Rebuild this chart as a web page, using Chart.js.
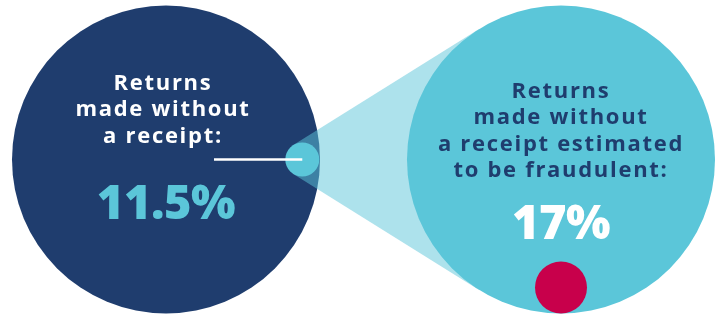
<!DOCTYPE html>
<html>
<head>
<meta charset="utf-8">
<script src="https://cdn.jsdelivr.net/npm/chart.js@4"></script>
<style>
  html, body { margin: 0; padding: 0; background: #ffffff; }
  #wrap { width: 718px; height: 316px; }
</style>
</head>
<body>
<div id="wrap"><canvas id="returnsChart"></canvas></div>
<script>
// data
const categories = ["Returns made without a receipt", "Returns made without a receipt estimated to be fraudulent"];
const labelLines = [
  ["Returns", "made without", "a receipt:"],
  ["Returns", "made without", "a receipt estimated", "to be fraudulent:"],
];
const shares = [11.5, 17];

const NAVY = "#1f3d6e";
const CYAN = "#5bc6d9";
const CRIMSON = "#c8004b";
const FONT = "'Open Sans', sans-serif";

// cone + small dot + pointer line, drawn between the two circles
const zoomPlugin = {
  id: "zoomCone",
  beforeDatasetDraw(chart, args) {
    if (args.index !== 1) return;
    const ctx = chart.ctx;
    const a = chart.getDatasetMeta(0).data[0];
    const b = chart.getDatasetMeta(1).data[0];
    const R1 = a.options.radius;
    const R2 = b.options.radius;
    const c1 = { x: a.x + R1 * 0.885, y: a.y };
    const r1 = 17;
    const dx = b.x - c1.x, dy = b.y - c1.y;
    const d = Math.hypot(dx, dy);
    const base = Math.atan2(dy, dx);
    const phi = Math.acos(-(R2 - r1) / d);
    const pts = [base - phi, base + phi].map((t) => ({
      s: { x: c1.x + r1 * Math.cos(t), y: c1.y + r1 * Math.sin(t) },
      e: { x: b.x + R2 * Math.cos(t), y: b.y + R2 * Math.sin(t) },
    }));
    ctx.save();
    ctx.fillStyle = "rgba(91,198,217,0.5)";
    ctx.beginPath();
    ctx.moveTo(pts[0].s.x, pts[0].s.y);
    ctx.lineTo(pts[0].e.x, pts[0].e.y);
    ctx.lineTo(b.x, b.y);
    ctx.lineTo(pts[1].e.x, pts[1].e.y);
    ctx.lineTo(pts[1].s.x, pts[1].s.y);
    ctx.closePath();
    ctx.fill();
    ctx.fillStyle = CYAN;
    ctx.beginPath();
    ctx.arc(c1.x, c1.y, r1, 0, Math.PI * 2);
    ctx.fill();
    ctx.strokeStyle = "#ffffff";
    ctx.lineWidth = 2.5;
    ctx.beginPath();
    ctx.moveTo(a.x + 48, a.y);
    ctx.lineTo(c1.x, c1.y);
    ctx.stroke();
    ctx.restore();
  },
  afterDatasetsDraw(chart) {
    const ctx = chart.ctx;
    const a = chart.getDatasetMeta(0).data[0];
    const b = chart.getDatasetMeta(1).data[0];
    ctx.save();
    // crimson dot at the bottom of the right circle
    ctx.fillStyle = CRIMSON;
    ctx.beginPath();
    ctx.arc(b.x, b.y + 128, 26, 0, Math.PI * 2);
    ctx.fill();

    ctx.textAlign = "center";
    ctx.textBaseline = "middle";
    const lh = 26.5;
    ctx.font = "bold 22px " + FONT;
    ctx.letterSpacing = "1.7px";
    ctx.fillStyle = "#ffffff";
    labelLines[0].forEach((t, i) => ctx.fillText(t, a.x - 3, a.y - 76 + i * lh));
    ctx.fillStyle = NAVY;
    labelLines[1].forEach((t, i) => ctx.fillText(t, b.x, b.y - 68 + i * lh));

    ctx.font = "800 47px " + FONT;
    ctx.letterSpacing = "-0.5px";
    ctx.fillStyle = CYAN;
    ctx.fillText(shares[0] + "%", a.x, a.y + 46);
    ctx.fillStyle = "#ffffff";
    ctx.fillText(shares[1] + "%", b.x, b.y + 66);
    ctx.restore();
  },
};

new Chart(document.getElementById("returnsChart"), {
  type: "scatter",
  data: {
    labels: categories,
    datasets: [
      {
        label: categories[0],
        data: [{ x: 0, y: 0 }],
        backgroundColor: NAVY,
        borderWidth: 0,
        pointRadius: 154,
        pointHoverRadius: 154,
        order: 2,
        clip: false,
      },
      {
        label: categories[1],
        data: [{ x: 1, y: 0 }],
        backgroundColor: CYAN,
        borderWidth: 0,
        pointRadius: 154,
        pointHoverRadius: 154,
        order: 1,
        clip: false,
      },
    ],
  },
  options: {
    responsive: true,
    maintainAspectRatio: false,
    animation: false,
    events: [],
    layout: { autoPadding: false, padding: { top: 3, bottom: 0, left: 0, right: 0 } },
    plugins: {
      legend: { display: false },
      tooltip: { enabled: false },
    },
    scales: {
      x: { type: "linear", display: false, min: -166 / 395, max: 552 / 395 },
      y: { type: "linear", display: false, min: -1, max: 1 },
    },
  },
  plugins: [zoomPlugin],
});
</script>
</body>
</html>
